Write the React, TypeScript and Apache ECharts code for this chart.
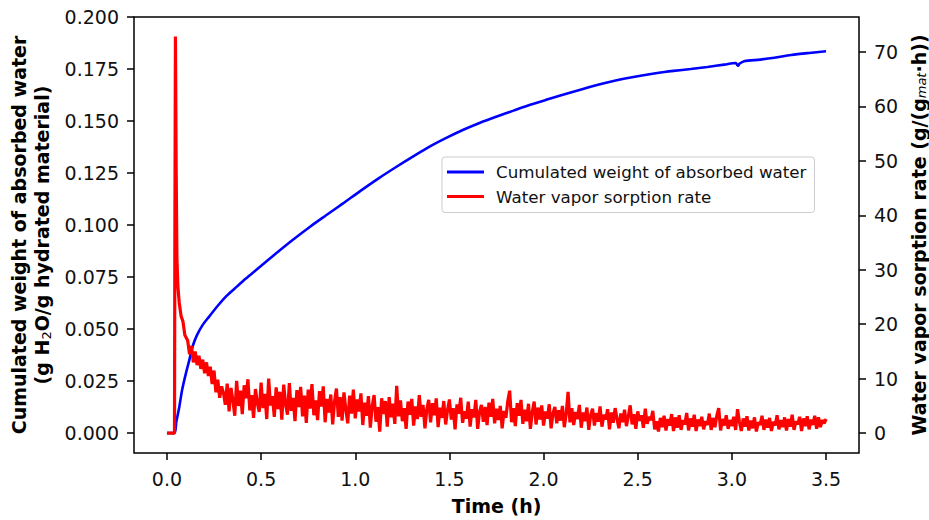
import React, { useEffect, useRef } from "react";
import * as echarts from "echarts";

// Cumulated weight of absorbed water (g H2O / g hydrated material) vs time (h)
const weightTimes = [0, 0.039, 0.05, 0.066, 0.08, 0.101, 0.12, 0.136, 0.16, 0.19, 0.225, 0.27, 0.314, 0.36, 0.403, 0.45, 0.491, 0.58, 0.669, 0.76, 0.847, 0.935, 1.024, 1.12, 1.219, 1.308, 1.397, 1.486, 1.574, 1.663, 1.752, 1.84, 1.929, 2.018, 2.107, 2.2, 2.284, 2.36, 2.426, 2.515, 2.604, 2.69, 2.781, 2.87, 2.959, 3.021, 3.028, 3.033, 3.04, 3.065, 3.15, 3.225, 3.314, 3.41, 3.5];
const weightValues = [0, 0, 0.0055, 0.0128, 0.0205, 0.0288, 0.0355, 0.0416, 0.0472, 0.052, 0.0561, 0.0612, 0.0657, 0.0695, 0.073, 0.0766, 0.0797, 0.0864, 0.0929, 0.0992, 0.1048, 0.1104, 0.1162, 0.1222, 0.128, 0.133, 0.1378, 0.142, 0.1458, 0.1492, 0.1522, 0.155, 0.1578, 0.1603, 0.1627, 0.1652, 0.1673, 0.169, 0.1703, 0.1718, 0.1731, 0.1741, 0.175, 0.176, 0.1771, 0.1779, 0.177, 0.1766, 0.1775, 0.1787, 0.1795, 0.1804, 0.1817, 0.1827, 0.1835];

// Water vapor sorption rate, early part (explicit times)
const rateEarlyTimes = [0, 0.01, 0.02, 0.03, 0.04, 0.042, 0.045, 0.049, 0.053, 0.058, 0.065, 0.075, 0.085, 0.095, 0.11, 0.12, 0.13, 0.14, 0.15, 0.16, 0.17, 0.18, 0.19, 0.2, 0.21, 0.22, 0.23, 0.24, 0.25, 0.26, 0.27, 0.28, 0.29];
const rateEarlyValues = [0, 0, 0, 0, 0, 36, 72.8, 48, 32, 27, 24, 21.5, 20.5, 18, 17, 14.5, 16, 13, 15, 12.5, 14.2, 11.8, 13.5, 11, 13, 10.5, 12.2, 9, 11.5, 7.5, 9.8, 6.5, 8.6];

// Water vapor sorption rate, sampled every 0.01 h from 0.30 h to 3.50 h
const rateSampleStart = 0.3;
const rateSampleStep = 0.01;
const rateSamples = [
  7.4, 5.2, 9.1, 4.0, 8.3, 6.1, 3.2, 9.6, 5.0, 7.8,
  3.5, 8.8, 6.4, 9.9, 4.2, 7.0, 2.8, 8.1, 5.5, 3.9,
  9.3, 4.6, 7.2, 2.6, 10.0, 5.1, 6.8, 3.0, 8.4, 4.4,
  7.6, 2.5, 8.9, 5.3, 3.4, 9.2, 4.1, 6.5, 2.2, 7.9,
  4.8, 8.5, 3.1, 6.9, 1.9, 8.0, 4.5, 9.0, 3.3, 6.0,
  2.4, 7.7, 4.9, 8.6, 2.0, 6.3, 3.8, 7.1, 1.6, 5.8,
  8.2, 3.0, 6.6, 2.3, 7.5, 4.3, 1.8, 6.9, 3.6, 8.0,
  2.7, 6.2, 4.0, 7.3, 1.5, 5.6, 3.2, 6.8, 1.0, 5.0,
  7.0, 2.1, 4.8, 0.3, 6.4, 3.5, 5.9, 1.2, 6.6, 2.9,
  5.4, 1.7, 8.7, 3.1, 6.0, 2.2, 4.6, 0.8, 5.8, 3.4,
  6.3, 1.4, 4.9, 2.6, 7.0, 3.0, 5.2, 0.9, 4.4, 6.1,
  2.0, 5.5, 3.3, 6.4, 1.1, 4.7, 2.8, 5.9, 1.6, 4.2,
  6.2, 2.5, 4.6, 0.7, 5.3, 3.6, 6.5, 1.9, 4.0, 2.7,
  5.8, 1.2, 4.4, 2.9, 6.1, 0.8, 3.9, 5.2, 2.1, 4.8,
  1.5, 5.6, 3.0, 6.3, 1.8, 4.5, 2.4, 5.0, 0.9, 4.1,
  2.8, 5.9, 7.8, 2.0, 4.6, 1.3, 5.5, 3.2, 6.1, 1.7,
  4.3, 2.2, 5.4, 0.8, 3.9, 5.8, 1.6, 4.7, 2.5, 5.1,
  1.4, 4.0, 2.7, 5.3, 0.9, 3.6, 4.8, 1.8, 4.2, 2.3,
  5.0, 1.1, 3.5, 7.6, 2.0, 4.6, 1.5, 3.9, 2.6, 5.2,
  1.0, 3.8, 2.2, 4.7, 0.6, 3.3, 4.5, 1.4, 3.7, 2.1,
  4.9, 1.2, 3.4, 2.5, 4.4, 0.7, 3.8, 1.9, 4.6, 2.6,
  0.9, 3.6, 2.0, 4.3, 1.3, 3.1, 5.1, 1.6, 3.5, 0.8,
  4.0, 2.3, 3.3, 1.0, 4.5, 1.7, 3.0, 2.4, 4.1, 0.7,
  2.2, 0.3, 2.8, 1.1, 3.2, 0.5, 2.6, 1.4, 3.5, 0.4,
  2.9, 1.0, 3.3, 0.6, 2.4, 1.6, 3.7, 0.5, 2.7, 1.2,
  3.4, 0.4, 2.5, 1.3, 3.0, 0.7, 2.2, 1.5, 3.6, 0.6,
  2.8, 1.1, 3.2, 4.6, 0.5, 2.6, 1.4, 3.3, 0.8, 2.4,
  1.3, 3.0, 0.6, 4.4, 2.1, 0.4, 2.7, 1.2, 3.1, 0.5,
  2.3, 0.9, 2.9, 0.3, 2.0, 1.5, 3.2, 0.6, 2.5, 1.0,
  2.8, 0.4, 2.1, 1.4, 3.3, 0.7, 2.4, 1.1, 2.9, 0.5,
  2.6, 1.2, 3.4, 0.6, 2.2, 1.6, 3.0, 0.4, 2.7, 1.3,
  3.1, 0.7, 2.5, 1.5, 3.2, 0.8, 2.9, 1.1, 2.4, 1.8,
  2.6,
];

const xTicks = [0, 0.5, 1, 1.5, 2, 2.5, 3, 3.5];
const leftTicks = [0, 0.025, 0.05, 0.075, 0.1, 0.125, 0.15, 0.175, 0.2];
const rightTicks = [0, 10, 20, 30, 40, 50, 60, 70];

const weightName = "Cumulated weight of absorbed water";
const rateName = "Water vapor sorption rate";

const FONT = "DejaVu Sans";

export default function App() {
  const ref = useRef<HTMLDivElement>(null);

  useEffect(() => {
    document.body.style.margin = "0";
    if (!ref.current) return;
    const chart = echarts.init(ref.current, null, { renderer: "svg" });

    const weightData = weightTimes.map((t, i) => [t, weightValues[i]]);
    const rateData: number[][] = rateEarlyTimes.map((t, i) => [t, rateEarlyValues[i]]);
    rateSamples.forEach((v, i) => {
      rateData.push([+(rateSampleStart + i * rateSampleStep).toFixed(3), v]);
    });

    const tickLabel = { fontFamily: FONT, fontSize: 19, color: "#111" };
    const titleStyle = { fontFamily: FONT, fontSize: 19, fontWeight: "bold" as const, color: "#000" };
    const tickStyle = { lineStyle: { color: "#000", width: 1.5 } };

    chart.setOption({
      animation: false,
      grid: {
        left: 134,
        right: 70,
        top: 17,
        bottom: 67,
        containLabel: false,
        outerBoundsMode: "none",
        show: true,
        borderColor: "#000",
        borderWidth: 1.5,
        backgroundColor: "transparent",
      },
      legend: {
        orient: "vertical",
        left: 442,
        top: 157,
        padding: [5, 8, 6, 5],
        itemGap: 4.5,
        itemWidth: 37,
        itemHeight: 3,
        icon: "rect",
        backgroundColor: "rgba(255,255,255,0.85)",
        borderColor: "#cccccc",
        borderWidth: 1,
        borderRadius: 3,
        textStyle: { fontFamily: FONT, fontSize: 16.7, color: "#111", lineHeight: 20, padding: [0, 0, 0, 7] },
        data: [weightName, rateName],
      },
      xAxis: {
        type: "value",
        min: -0.175,
        max: 3.675,
        position: "bottom",
        name: "Time (h)",
        nameLocation: "middle",
        nameGap: 43,
        nameTextStyle: titleStyle,
        axisLine: { show: false, onZero: false },
        splitLine: { show: false },
        axisTick: { show: true, inside: false, length: 7, ...tickStyle, customValues: xTicks },
        axisLabel: { ...tickLabel, margin: 16, customValues: xTicks, formatter: (v: number) => v.toFixed(1) },
      },
      yAxis: [
        {
          type: "value",
          min: -0.0096,
          max: 0.2,
          position: "left",
          name: "Cumulated weight of absorbed water\n(g H{sub|2}O/g hydrated material)",
          nameLocation: "middle",
          nameRotate: 90,
          nameGap: 81,
          nameTextStyle: {
            ...titleStyle,
            lineHeight: 23,
            rich: {
              sub: { fontFamily: FONT, fontSize: 13, fontWeight: "normal", verticalAlign: "bottom", lineHeight: 18, color: "#000" },
            },
          },
          axisLine: { show: false, onZero: false },
          splitLine: { show: false },
          axisTick: { show: true, inside: false, length: 7, ...tickStyle, customValues: leftTicks },
          axisLabel: { ...tickLabel, margin: 15, customValues: leftTicks, formatter: (v: number) => v.toFixed(3) },
        },
        {
          type: "value",
          min: -3.64,
          max: 76.4,
          position: "right",
          name: "Water vapor sorption rate (g/(g{sub|mat}·h))",
          nameLocation: "middle",
          nameRotate: 90,
          nameGap: 50,
          nameTextStyle: {
            ...titleStyle,
            rich: {
              sub: { fontFamily: FONT, fontSize: 13, fontStyle: "italic", fontWeight: "normal", verticalAlign: "bottom", lineHeight: 18, color: "#000" },
            },
          },
          axisLine: { show: false, onZero: false },
          splitLine: { show: false },
          axisTick: { show: true, inside: false, length: 7, ...tickStyle, customValues: rightTicks },
          axisLabel: { ...tickLabel, margin: 15, customValues: rightTicks, formatter: (v: number) => String(v) },
        },
      ],
      series: [
        {
          name: weightName,
          type: "line",
          xAxisIndex: 0,
          yAxisIndex: 0,
          data: weightData,
          showSymbol: false,
          symbol: "none",
          smooth: 0.3,
          lineStyle: { color: "#0000ff", width: 2.6 },
          itemStyle: { color: "#0000ff" },
        },
        {
          name: rateName,
          type: "line",
          xAxisIndex: 0,
          yAxisIndex: 1,
          data: rateData,
          showSymbol: false,
          symbol: "none",
          lineStyle: { color: "#ff0000", width: 3.2 },
          itemStyle: { color: "#ff0000" },
        },
      ],
    });

    return () => {
      chart.dispose();
    };
  }, []);

  return <div ref={ref} style={{ width: 929, height: 520 }} />;
}
